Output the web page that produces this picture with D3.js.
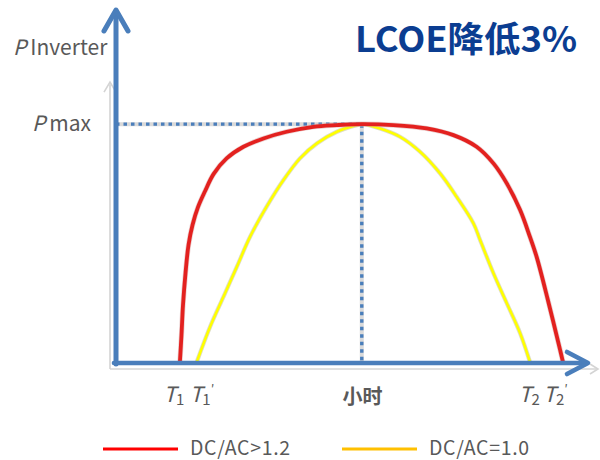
<!DOCTYPE html>
<html>
<head>
<meta charset="utf-8">
<script src="https://cdn.jsdelivr.net/npm/d3@7"></script>
<style>
  html, body { margin: 0; padding: 0; background: #fff; }
  svg { display: block; }
  text { font-family: "Noto Sans CJK SC", "Noto Sans", sans-serif; }
</style>
</head>
<body>
<svg id="chart" width="600" height="460"></svg>
<script>
// Inverter output power over the day (hours, % of Pmax)
const redHours  = [6.82, 6.865, 6.908, 6.98, 7.065, 7.179, 7.335, 7.535, 7.777, 8.15, 8.63, 9.20, 9.86, 10.62, 11.29, 12.0,
                   12.90, 13.85, 14.61, 15.27, 15.75, 16.13, 16.51, 16.79, 16.98, 17.30, 17.65, 17.73];
const redPower  = [0, 11.3, 23.9, 37.4, 49.2, 57.6, 65.1, 71.8, 79.0, 85.6, 90.5, 94.0, 96.8, 98.9, 99.6, 100,
                   99.6, 98.2, 95.4, 90.5, 83.5, 75.1, 63.9, 52.6, 44.2, 26.1, 5.0, 0];
const yellowHours = [7.30, 7.68, 8.06, 8.44, 8.82, 9.29, 9.77, 10.24, 10.72, 11.29, 11.86, 12.0,
                     12.52, 13.09, 13.66, 14.23, 14.70, 15.18, 15.37, 15.75, 16.13, 16.51, 16.79];
const yellowPower = [0, 14.8, 27.4, 40.0, 52.7, 65.3, 76.5, 85.6, 91.9, 96.8, 99.6, 100,
                     98.2, 94.7, 88.4, 79.3, 69.5, 58.3, 51.3, 37.3, 24.7, 12.1, 0];

const pMax = 100;
const peakHour = 12;
// x-axis annotations: main letter, subscript, prime, hour
const tickLetters = ["T", "T", "小时", "T", "T"];
const tickSubs    = ["1", "1", "", "2", "2"];
const tickPrimes  = ["", "′", "", "", "′"];
const tickHours   = [6.65, 7.45, 12.02, 16.77, 17.52];

const seriesNames  = ["DC/AC>1.2", "DC/AC=1.0"];
const seriesColors = ["#ff0000", "#ffc000"];
const title = "LCOE降低3%";

const svg = d3.select("#chart");
const x = d3.scaleLinear().domain([5, 18.5]).range([116, 590]);
const y = d3.scaleLinear().domain([0, 148]).range([362, 10]);

const line = (hs, ps) => d3.line()
  .x((d, i) => x(hs[i]))
  .y((d, i) => y(ps[i]))
  .curve(d3.curveCatmullRom.alpha(0.5))(hs);

const axisBlue = "#4a7ebb";
const textGray = "#595959";

// faint underlying axes
const faint = svg.append("g").attr("stroke", "#d4d4d4").attr("fill", "none").attr("stroke-width", 1.6);
faint.append("line").attr("x1", 110).attr("x2", 110).attr("y1", y(100) - 40).attr("y2", 369);
faint.append("path").attr("d", `M104,${y(100) - 32} L110,${y(100) - 42} L116,${y(100) - 32}`);
faint.append("line").attr("x1", 110).attr("x2", 597).attr("y1", 369).attr("y2", 369);
faint.append("path").attr("d", `M590,364 L598,369 L590,374`);

// Pmax guide lines
const guides = [
  [x(5), y(pMax), x(peakHour), y(pMax)],
  [x(peakHour), y(pMax), x(peakHour), y(0)]
];
guides.forEach(([x1, y1, x2, y2]) => {
  svg.append("line").attr("x1", x1).attr("y1", y1).attr("x2", x2).attr("y2", y2)
    .attr("stroke", "#d9d9d9").attr("stroke-width", 4);
  svg.append("line").attr("x1", x1).attr("y1", y1).attr("x2", x2).attr("y2", y2)
    .attr("stroke", axisBlue).attr("stroke-width", 3.4).attr("stroke-dasharray", "3.5,4");
});

// curves
svg.append("path").attr("d", line(yellowHours, yellowPower))
  .attr("fill", "none").attr("stroke", "#c8c8a0").attr("stroke-width", 4.2).attr("stroke-opacity", 0.6);
svg.append("path").attr("d", line(yellowHours, yellowPower))
  .attr("fill", "none").attr("stroke", "#ffff00").attr("stroke-width", 2.6);
svg.append("path").attr("d", line(redHours, redPower))
  .attr("fill", "none").attr("stroke", "#d8a0a0").attr("stroke-width", 5.2).attr("stroke-opacity", 0.5);
svg.append("path").attr("d", line(redHours, redPower))
  .attr("fill", "none").attr("stroke", "#e3211f").attr("stroke-width", 3.8);

// axes with arrowheads
const axes = svg.append("g").attr("stroke", axisBlue).attr("fill", "none")
  .attr("stroke-linecap", "round").attr("stroke-linejoin", "round");
axes.append("line").attr("x1", x(5)).attr("x2", x(5)).attr("y1", y(0) + 2).attr("y2", y(148) + 2).attr("stroke-width", 5);
axes.append("path").attr("d", `M${x(5) - 12},${y(148) + 21} L${x(5)},${y(148)} L${x(5) + 12},${y(148) + 21}`).attr("stroke-width", 5);
axes.append("line").attr("x1", x(5) - 2).attr("x2", 587).attr("y1", y(0) + 1).attr("y2", y(0) + 1).attr("stroke-width", 4.6);
axes.append("path").attr("d", `M567,${y(0) - 10} L588,${y(0) + 1} L567,${y(0) + 12}`).attr("stroke-width", 4.6);

// axis labels
const yl1 = svg.append("text").attr("x", 13).attr("y", 55).attr("fill", textGray).attr("font-size", 21);
yl1.append("tspan").attr("font-style", "italic").text("P");
yl1.append("tspan").attr("dx", 4).text("Inverter");
const yl2 = svg.append("text").attr("x", 32).attr("y", y(pMax) + 7).attr("fill", textGray).attr("font-size", 21);
yl2.append("tspan").attr("font-style", "italic").text("P");
yl2.append("tspan").attr("dx", 4).text("max");

tickHours.forEach((h, i) => {
  const t = svg.append("text").attr("x", x(h)).attr("y", 402).attr("text-anchor", "middle")
    .attr("fill", textGray);
  if (tickSubs[i]) {
    t.attr("font-size", 21);
    t.append("tspan").attr("font-style", "italic").text(tickLetters[i]);
    t.append("tspan").attr("font-size", 15).attr("dy", 3).text(tickSubs[i]);
    if (tickPrimes[i]) t.append("tspan").attr("font-size", 13).attr("dy", -11).text(tickPrimes[i]);
  } else {
    t.attr("font-size", 20).attr("font-weight", "bold").attr("y", 404).text(tickLetters[i]);
  }
});

// title
svg.append("text").attr("x", 355).attr("y", 52).attr("fill", "#0b3d91")
  .attr("font-size", 35).attr("font-weight", "bold")
  .attr("textLength", 222).attr("lengthAdjust", "spacingAndGlyphs").text(title);

// legend
const legendX = [103, 342];
seriesNames.forEach((name, i) => {
  const g = svg.append("g").attr("transform", `translate(${legendX[i]},449)`);
  g.append("line").attr("x1", 0).attr("x2", 75).attr("stroke", seriesColors[i]).attr("stroke-width", 3);
  g.append("text").attr("x", 87).attr("y", 6).attr("fill", textGray).attr("font-size", 19.5)
    .attr("font-family", "'Noto Sans', sans-serif")
    .attr("letter-spacing", 0.7).text(name);
});
</script>
</body>
</html>
